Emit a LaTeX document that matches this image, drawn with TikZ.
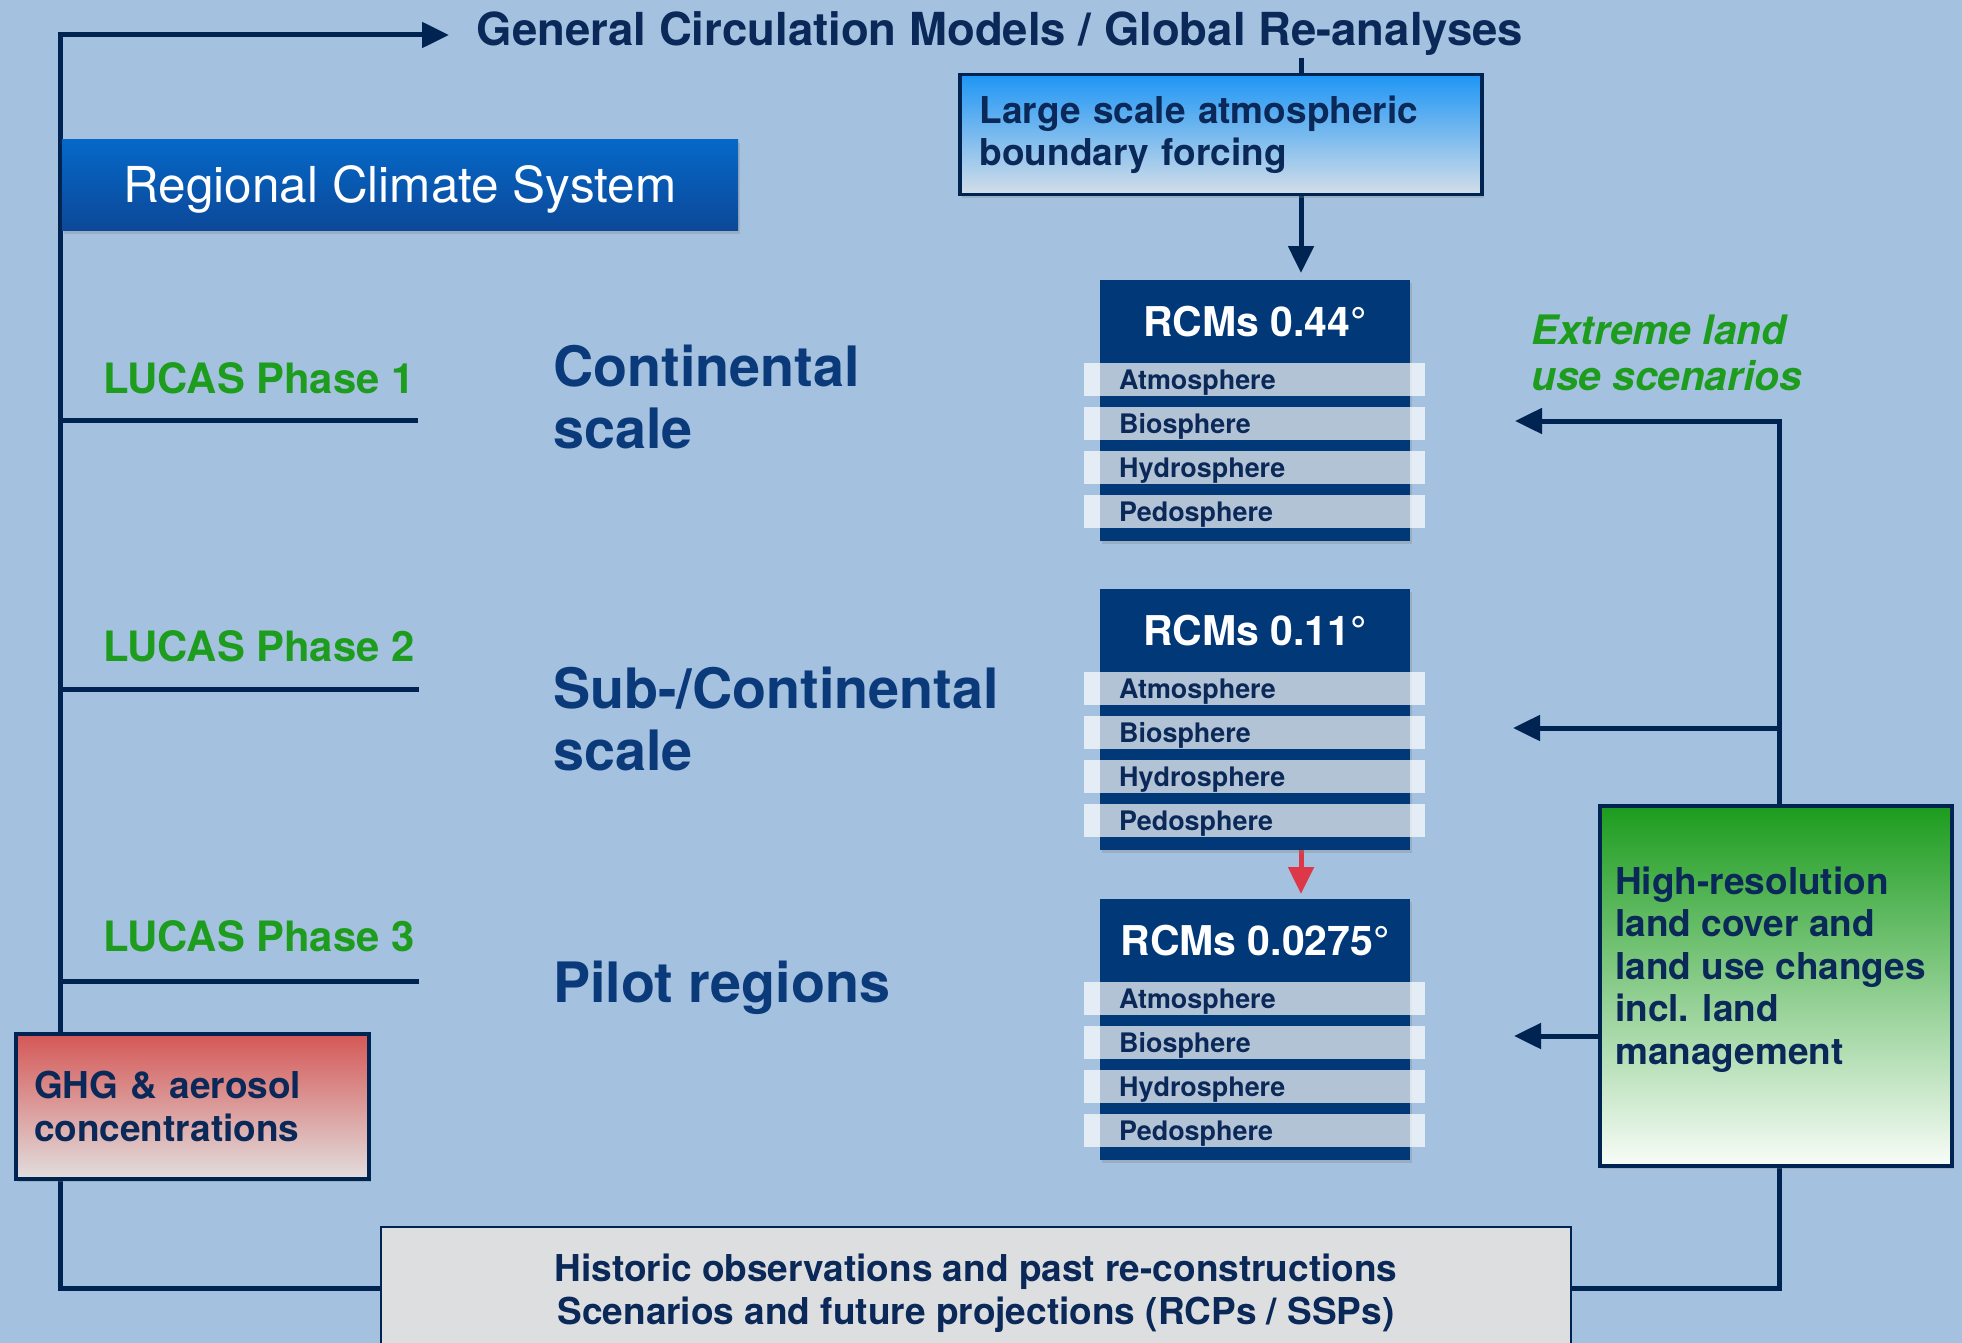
\documentclass[tikz,border=0pt]{standalone}
\usepackage{fontspec}
\setmainfont{TeX Gyre Heros}
\usetikzlibrary{arrows.meta,calc,shadows,positioning}

\definecolor{bgblue}{RGB}{165,193,224}
\definecolor{navy}{RGB}{0,36,82}
\definecolor{rcmblue}{RGB}{0,56,120}
\definecolor{textnavy}{RGB}{10,40,88}
\definecolor{scalenavy}{RGB}{10,58,122}
\definecolor{lucasgreen}{RGB}{30,156,30}
\definecolor{arrowred}{RGB}{220,56,72}
\definecolor{regtop}{RGB}{5,104,200}
\definecolor{regbottom}{RGB}{12,72,152}
\definecolor{lstop}{RGB}{30,150,245}
\definecolor{lsbottom}{RGB}{212,222,232}
\definecolor{ghgtop}{RGB}{212,88,86}
\definecolor{ghgbottom}{RGB}{226,222,222}
\definecolor{hrtop}{RGB}{28,156,30}
\definecolor{hrbottom}{RGB}{248,252,248}
\definecolor{histgray}{RGB}{220,222,224}

\pgfdeclarelayer{bg}
\pgfdeclarelayer{wires}
\pgfsetlayers{bg,wires,main}

\begin{document}
\begin{tikzpicture}[x=1pt, y=-1pt,
    wire/.style={draw=navy, line width=5pt},
    headed/.style={-{Triangle[length=27pt,width=25pt]}},
    softshadow/.style={drop shadow={opacity=0.3, shadow xshift=2pt, shadow yshift=-3pt}},
    boxtext/.style={font=\fontsize{37}{42.5}\selectfont\bfseries, text=textnavy},
    titlefont/.style={font=\fontsize{45.5}{50}\selectfont\bfseries, text=textnavy, inner sep=0pt},
    scalefont/.style={font=\fontsize{55.7}{62}\selectfont\bfseries, text=scalenavy, align=left, inner sep=0pt},
    lucas/.style={font=\fontsize{41.8}{46}\selectfont\bfseries, text=lucasgreen, inner sep=0pt},
    regbox/.style={softshadow, top color=regtop, bottom color=regbottom, text=white,
        minimum width=676pt, minimum height=91pt, inner sep=0pt,
        font=\fontsize{49.5}{52}\selectfont, text height=35pt, text depth=0pt},
    forcebox/.style={boxtext, softshadow, draw=navy, line width=3.5pt, top color=lstop, bottom color=lsbottom,
        minimum height=120pt, text width=482pt, inner xsep=20pt, inner ysep=0pt, align=left},
    rcmbox/.style={softshadow, fill=rcmblue, minimum width=310pt, minimum height=261pt, inner sep=0pt},
    rcmhead/.style={font=\fontsize{41}{46}\selectfont\bfseries, text=white, inner sep=0pt},
    spherebar/.style={fill=white, fill opacity=0.7, text opacity=1, text=textnavy,
        font=\fontsize{26.9}{30}\selectfont\bfseries, text width=271pt, inner xsep=35pt, inner ysep=0pt,
        minimum height=33pt, text height=19.2pt, text depth=0pt, align=left},
    ghgbox/.style={boxtext, softshadow, draw=navy, line width=4pt, top color=ghgtop, bottom color=ghgbottom,
        minimum height=145pt, text width=317pt, inner xsep=18pt, inner ysep=0pt, align=left},
    hrbox/.style={softshadow, draw=navy, line width=3.5pt, top color=hrtop, bottom color=hrbottom,
        minimum width=352pt, minimum height=360pt, inner sep=0pt},
    histbox/.style={boxtext, draw=navy, line width=2pt, fill=histgray,
        minimum width=1190pt, minimum height=132pt, inner sep=0pt, align=center},
    extreme/.style={font=\fontsize{40.6}{46}\selectfont\bfseries\itshape, text=lucasgreen, align=left, inner sep=0pt}]

\clip (0,0) rectangle (1962,1343);
\begin{pgfonlayer}{bg}
  \fill[bgblue] (0,0) rectangle (1962,1343);
\end{pgfonlayer}

% top row
\node[titlefont, anchor=base] (gcm) at (1000,46) {General Circulation Models / Global Re-analyses};
\node[regbox] (rcs) at (400,185.5) {Regional Climate System};
\node[forcebox, anchor=north west] (lsf) at (958,73) {Large scale atmospheric\\boundary forcing};

% model blocks
\foreach \nm/\ytop/\res in {rcmA/280/0.44, rcmB/589/0.11, rcmC/899/0.0275} {
  \node[rcmbox, anchor=north west] (\nm) at (1100,\ytop) {};
  \node[rcmhead] (\nm-head) at ($(\nm.north)+(0,42)$) {RCMs \res°};
  \foreach \sph [count=\i from 0] in {Atmosphere,Biosphere,Hydrosphere,Pedosphere}
    \node[spherebar, anchor=north west] (\nm-\i) at ($(\nm.north west)+(-16,83+44*\i)$) {\sph};
}

% scales and phases
\node[scalefont, anchor=west] (contl) at (553,397) {Continental\\scale};
\node[scalefont, anchor=west] (subcontl) at (553,719) {Sub-/Continental\\scale};
\node[scalefont, anchor=base west] (pilot) at (553,1002) {Pilot regions};
\node[lucas, anchor=base west] (phaseA) at (103,393) {LUCAS Phase 1};
\node[lucas, anchor=base west] (phaseB) at (103,661) {LUCAS Phase 2};
\node[lucas, anchor=base west] (phaseC) at (103,951) {LUCAS Phase 3};
\node[extreme, anchor=west] (elus) at (1531,353) {Extreme land\\use scenarios};

% forcing boxes
\node[ghgbox, anchor=north west] (ghg) at (14,1032) {GHG \& aerosol\\concentrations};
\node[hrbox, anchor=north west] (hires) at (1598,804) {};
\node[boxtext, align=left, anchor=west, inner sep=0pt] (hirestxt) at (1615,969.5)
  {High-resolution\\land cover and\\land use changes\\incl. land\\management};
\node[histbox, anchor=north] (hist) at (976,1226)
  {Historic observations and past re-constructions\\Scenarios and future projections (RCPs / SSPs)};

\coordinate (corner) at (60,35);
\coordinate (floor) at (60,1288);
\coordinate (gcmarr) at (449,35);
\coordinate (gcmfoot) at (1301,58);
\coordinate (rx) at (1779,421);
\coordinate (elu) at (1515,421);
\coordinate (subarr) at (1513,728);
\coordinate (pilotarr) at (1514,1036);
\coordinate (phAend) at (418,420);
\coordinate (phBend) at (419,689);
\coordinate (phCend) at (419,981);

\begin{pgfonlayer}{wires}
  \draw[wire, headed] (hist.west |- floor) -- (floor) -- (corner) -- (gcmarr);
  \draw[wire] (corner |- phAend) -- (phAend);
  \draw[wire] (corner |- phBend) -- (phBend);
  \draw[wire] (corner |- phCend) -- (phCend);
  \draw[wire] (gcmfoot) -- (gcmfoot |- lsf.north);
  \draw[wire, headed, shorten >=7pt] (lsf.south -| gcmfoot) -- (rcmA.north -| gcmfoot);
  \draw[wire, draw=arrowred, headed, shorten >=5pt] (rcmB.south -| gcmfoot) -- (rcmC.north -| gcmfoot);
  \draw[wire, headed] (hires.north -| rx) -- (rx) -- (elu);
  \draw[wire, headed] (rx |- subarr) -- (subarr);
  \draw[wire, headed] (hires.west |- pilotarr) -- (pilotarr);
  \draw[wire] (hires.south -| rx) -- (rx |- floor) -- (hist.east |- floor);
\end{pgfonlayer}
\end{tikzpicture}
\end{document}
